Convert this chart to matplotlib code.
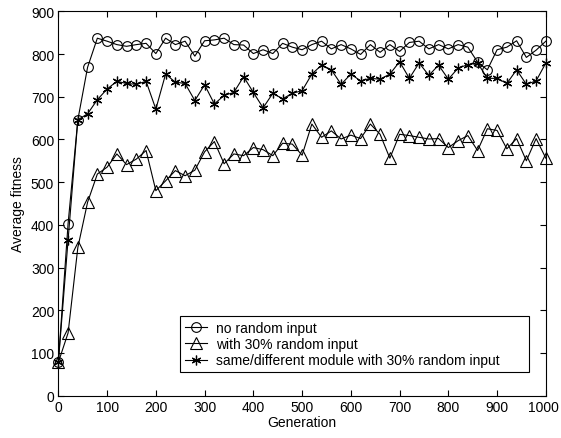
import numpy as np
import matplotlib
matplotlib.use('Agg')
import matplotlib.pyplot as plt
import matplotlib.transforms as mtransforms

# Dados
generation = np.arange(0, 1001, 20)

no_random = [78, 403, 646, 769, 837, 830, 822, 818, 822, 825,
             801, 837, 822, 830, 795, 831, 833, 837, 822, 821,
             801, 810, 801, 825, 816, 810, 822, 830, 812, 822,
             812, 799, 822, 804, 822, 806, 827, 830, 812, 822,
             812, 822, 816, 781, 763, 810, 816, 831, 792, 809,
             830]

random30 = [78, 147, 347, 453, 519, 535, 566, 541, 554, 574,
            480, 503, 527, 515, 528, 571, 595, 543, 566, 562,
            581, 576, 562, 591, 589, 563, 636, 605, 620, 601,
            610, 602, 636, 612, 556, 612, 609, 605, 601, 602,
            581, 597, 609, 574, 625, 621, 578, 602, 550, 602,
            556]

module30 = [78, 365, 646, 660, 693, 718, 736, 731, 729, 736,
            671, 753, 734, 731, 691, 728, 683, 703, 710, 747,
            710, 674, 708, 695, 708, 714, 753, 774, 763, 729,
            753, 737, 743, 741, 753, 782, 743, 779, 750, 774,
            741, 767, 775, 779, 743, 743, 731, 763, 729, 737,
            779]

labels = ['no random input',
          'with 30% random input',
          'same/different module with 30% random input']

plt.rcParams['font.family'] = ['Liberation Sans', 'DejaVu Sans']
fs = 10

fig = plt.figure(figsize=(5.61, 4.39), dpi=100)
ax = fig.add_axes([0.104, 0.0964, 0.869, 0.8756])

ax.plot(generation, no_random, color='black', linewidth=0.8, marker='o',
        markersize=7, markerfacecolor='none', markeredgewidth=0.8,
        clip_on=False, label=labels[0])
ax.plot(generation, random30, color='black', linewidth=0.8, marker='^',
        markersize=8, markerfacecolor='none', markeredgewidth=0.8,
        clip_on=False, label=labels[1])
ax.plot(generation, module30, color='black', linewidth=0.8, marker=(6, 2, 0),
        markersize=7, markeredgewidth=0.9, clip_on=False, label=labels[2])

ax.set_xlim(0, 1000)
ax.set_ylim(0, 900)
ax.set_xticks(np.arange(0, 1001, 100))
ax.set_yticks(np.arange(0, 901, 100))
ax.tick_params(direction='in', top=True, right=True, length=4, width=0.8,
               labelsize=fs, pad=3)
for s in ax.spines.values():
    s.set_linewidth(0.8)

# "1000" encostado na borda: desloca um pouco para a esquerda
last = ax.get_xticklabels()[-1]
last.set_transform(last.get_transform() +
                   mtransforms.ScaledTranslation(-2 / 72, 0, fig.dpi_scale_trans))

ax.set_xlabel('Generation', fontsize=fs, labelpad=1)
ax.set_ylabel('Average fitness', fontsize=fs, labelpad=4)

leg = ax.legend(loc='lower left', bbox_to_anchor=(0.25, 0.061, 0.716, 0.153),
                mode='expand', fontsize=fs, handlelength=1.6, handletextpad=0.6,
                labelspacing=0.15, borderpad=0.35, fancybox=False, framealpha=1,
                edgecolor='black', borderaxespad=0)
leg.get_frame().set_linewidth(0.8)

fig.savefig('out.png', dpi=100)
